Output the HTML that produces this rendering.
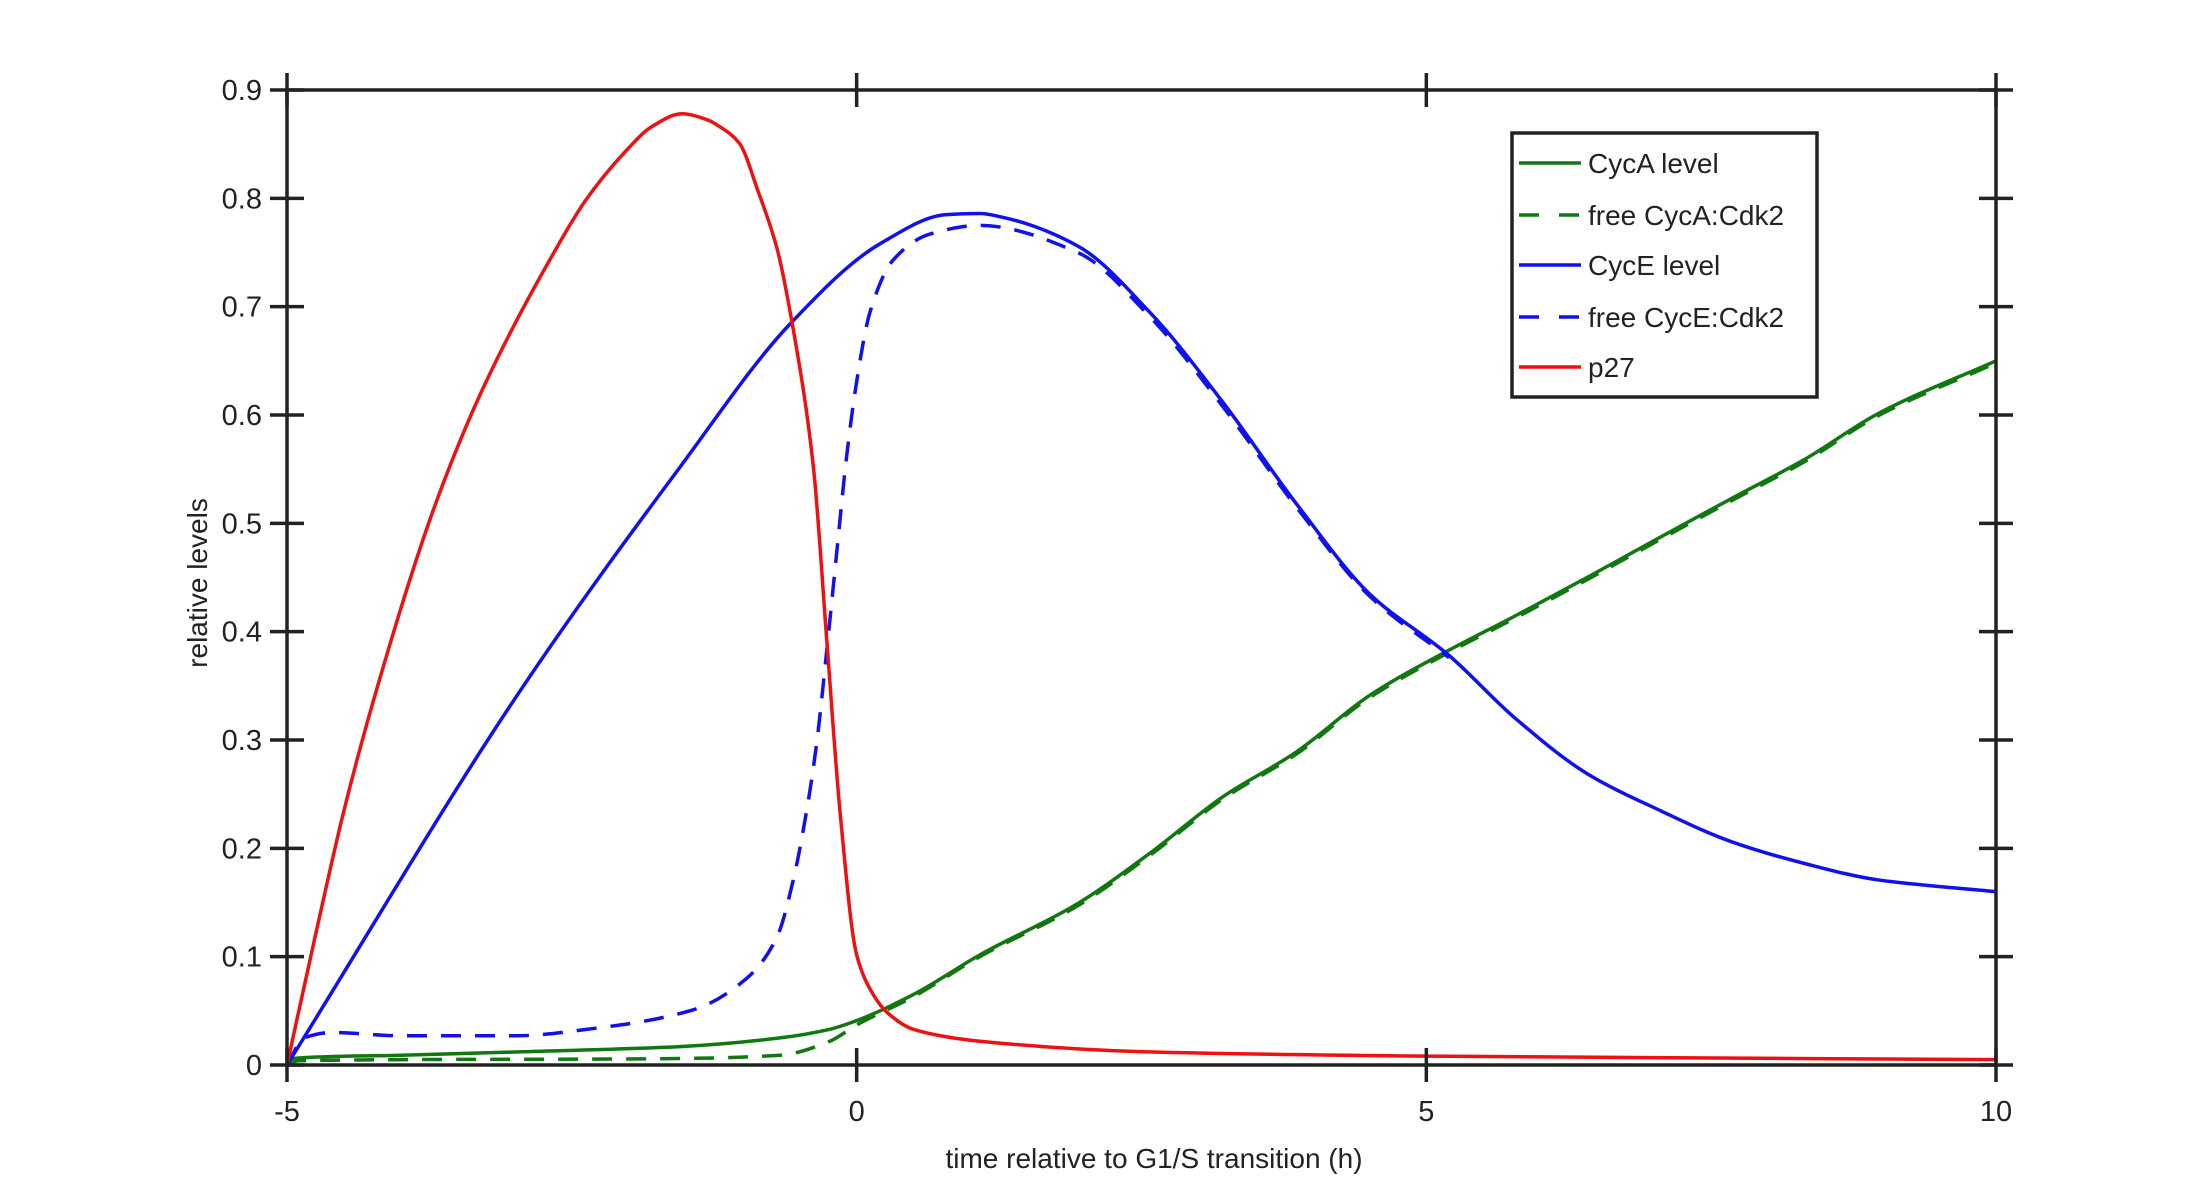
<!DOCTYPE html>
<html><head><meta charset="utf-8"><style>
body{margin:0;background:#fff;}
svg{display:block;font-family:"Liberation Sans",Arial,sans-serif;}
</style></head><body>
<svg id="chart" width="2205" height="1197" viewBox="0 0 2205 1197">
<g id="series"></g>
<g id="axes"></g>
<g id="legend"></g>
</svg>
<script>
const xTicks=[-5,0,5,10];
const yTicks=[0,0.1,0.2,0.3,0.4,0.5,0.6,0.7,0.8,0.9];
const yTickLabels=["0","0.1","0.2","0.3","0.4","0.5","0.6","0.7","0.8","0.9"];
const xTickLabels=["-5","0","5","10"];
const seriesNames=["CycA level","free CycA:Cdk2","CycE level","free CycE:Cdk2","p27"];
const cycAT=[-5,-4.95,-4,-3,-1.55,-0.673,-0.235,0,0.497,1.08,1.94,2.58,3.22,3.86,4.5,5.2,5.77,6.41,7.05,7.68,8.32,8.96,10];
const cycAV=[0,0.006,0.009,0.012,0.017,0.025,0.033,0.041,0.065,0.1015,0.149,0.196,0.248,0.289,0.341,0.383,0.414,0.450,0.487,0.523,0.559,0.601,0.650];
const freeAT=[-5,-4.9,-1.55,-0.673,-0.235,0,0.497,1.08,1.94,2.58,3.22,3.86,4.5,5.2,5.77,6.41,7.05,7.68,8.32,8.96,10];
const freeAV=[0,0.004,0.006,0.009,0.022,0.037,0.063,0.1,0.147,0.194,0.246,0.287,0.339,0.381,0.412,0.448,0.485,0.521,0.557,0.599,0.648];
const cycET=[-5,-2.95,-1.55,-0.585,0.205,0.79,1.08,1.3,1.94,2.58,3.22,3.86,4.5,5.2,5.77,6.41,7.05,7.68,8.32,8.96,10];
const cycEV=[0,0.346,0.552,0.684,0.758,0.785,0.786,0.782,0.756,0.694,0.611,0.518,0.435,0.378,0.321,0.269,0.235,0.206,0.186,0.171,0.160];
const freeET=[-5,-4.85,-4.6,-4,-3,-2.29,-1.434,-0.965,-0.70,-0.556,-0.44,-0.35,-0.263,-0.175,-0.087,0,0.117,0.32,0.644,1.08,1.94,2.58,3.22,3.86,4.5,5.2];
const freeEV=[0,0.025,0.03,0.027,0.027,0.034,0.051,0.080,0.118,0.171,0.234,0.298,0.382,0.473,0.563,0.631,0.695,0.743,0.767,0.775,0.750,0.690,0.607,0.515,0.433,0.376];
const p27T=[-5,-4.75,-4.5,-4.19,-3.72,-3.385,-3.05,-2.7,-2.38,-2.04,-1.8,-1.535,-1.3,-1.2,-1.03,-0.87,-0.695,-0.56,-0.38,-0.263,-0.146,0,0.146,0.263,0.497,1.08,2.6,5.2,10];
const p27V=[0,0.12,0.235,0.355,0.511,0.600,0.674,0.742,0.798,0.842,0.866,0.878,0.872,0.866,0.851,0.808,0.752,0.681,0.552,0.393,0.234,0.1015,0.065,0.049,0.033,0.022,0.012,0.008,0.005];

const L=287,R=1996,T=90,B=1065;
const xS=t=>L+(t+5)/15*(R-L);
const yS=v=>B-v/0.9*(B-T);
const NS="http://www.w3.org/2000/svg";
function mk(tag,attrs,parent){const e=document.createElementNS(NS,tag);for(const k in attrs)e.setAttribute(k,attrs[k]);parent.appendChild(e);return e;}
function pathD(ts,vs){
  const x=ts.map(xS),y=vs.map(yS),n=x.length;
  const d=[],m=new Array(n);
  for(let i=0;i<n-1;i++)d.push((y[i+1]-y[i])/(x[i+1]-x[i]));
  m[0]=d[0];m[n-1]=d[n-2];
  for(let i=1;i<n-1;i++){
    if(d[i-1]*d[i]<=0)m[i]=0;
    else{const h0=x[i]-x[i-1],h1=x[i+1]-x[i];const w1=2*h1+h0,w2=h1+2*h0;m[i]=(w1+w2)/(w1/d[i-1]+w2/d[i]);}
  }
  let s="M"+x[0].toFixed(1)+","+y[0].toFixed(1);
  for(let i=0;i<n-1;i++){
    const h=(x[i+1]-x[i])/3;
    s+=" C"+(x[i]+h).toFixed(1)+","+(y[i]+m[i]*h).toFixed(1)+" "+(x[i+1]-h).toFixed(1)+","+(y[i+1]-m[i+1]*h).toFixed(1)+" "+x[i+1].toFixed(1)+","+y[i+1].toFixed(1);
  }
  return s;
}
const sg=document.getElementById('series');
const defs=[[cycAT,cycAV,"#117711",null,"cyca-level-line"],[freeAT,freeAV,"#117711","20 14","free-cyca-cdk2-line"],[cycET,cycEV,"#1111ee",null,"cyce-level-line"],[freeET,freeEV,"#1111ee","20 14","free-cyce-cdk2-line"],[p27T,p27V,"#ee1111",null,"p27-line"]];
defs.forEach(s=>{
  const e=mk('path',{d:pathD(s[0],s[1]),fill:"none",stroke:s[2],"stroke-width":3.5},sg);
  if(s[3])e.setAttribute('stroke-dasharray',s[3]);
  
  
});
const ax=document.getElementById('axes');
const frame=mk('rect',{x:L,y:T,width:R-L,height:B-T,fill:"none",stroke:"#222","stroke-width":3.5},ax);


xTicks.forEach((t,i)=>{
  const x=xS(t);
  const tk=mk('path',{d:`M${x},${B+17}V${B-17}M${x},${T-17}V${T+17}`,stroke:"#222","stroke-width":3.5},ax);
  
  
  const lb=mk('text',{x:x,y:1121,"text-anchor":"middle","font-size":29,fill:"#222"},ax);
  lb.textContent=xTickLabels[i];
  
  
});
yTicks.forEach((v,i)=>{
  const y=yS(v);
  const tk=mk('path',{d:`M${L-17},${y}H${L+17}M${R-17},${y}H${R+17}`,stroke:"#222","stroke-width":3.5},ax);
  
  
  const lb=mk('text',{x:262,y:y+10,"text-anchor":"end","font-size":29,fill:"#222"},ax);
  lb.textContent=yTickLabels[i];
  
  
});
const xl=mk('text',{x:1154,y:1168,"text-anchor":"middle","font-size":28,fill:"#222"},ax);
xl.textContent="time relative to G1/S transition (h)";


const yl=mk('text',{x:0,y:0,"text-anchor":"middle","font-size":28,fill:"#222",transform:"translate(207,583) rotate(-90)"},ax);
yl.textContent="relative levels";


const lg=document.getElementById('legend');
const box=mk('rect',{x:1512,y:133,width:305,height:264,fill:"#fff",stroke:"#222","stroke-width":3.5},lg);


const rowY=[163,215,265,317,367];
defs.forEach((s,i)=>{
  const ln=mk('path',{d:`M1519,${rowY[i]}H1581`,stroke:s[2],"stroke-width":3.5},lg);
  if(s[3])ln.setAttribute('stroke-dasharray',"20 20");
  
  
  const tx=mk('text',{x:1588,y:rowY[i]+10,"font-size":28,fill:"#222"},lg);
  tx.textContent=seriesNames[i];
  
  
});
</script>
</body></html>
